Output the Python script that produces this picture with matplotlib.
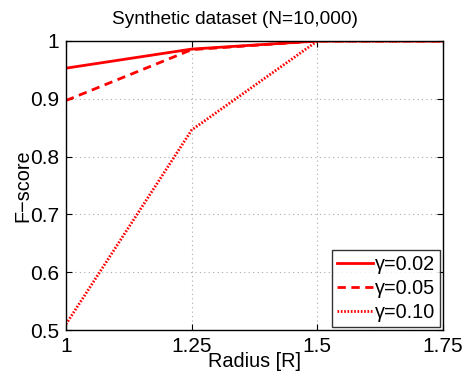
import matplotlib
matplotlib.use('Agg')
import matplotlib.pyplot as plt

plt.rcParams['font.family'] = ['Liberation Sans', 'DejaVu Sans']

radius = [1.0, 1.25, 1.5, 1.75]
f_002 = [0.953, 0.986, 1.0, 1.0]
f_005 = [0.897, 0.985, 1.0, 1.0]
f_010 = [0.510, 0.846, 1.0, 1.0]
labels = ['γ=0.02', 'γ=0.05', 'γ=0.10']

fig = plt.figure(figsize=(4.69, 3.76), dpi=100)
ax = fig.add_axes([66/469, 1 - 330/376, (443-66)/469, (330-41)/376])

ax.plot(radius, f_002, color='red', lw=2, ls='-', label=labels[0])
ax.plot(radius, f_005, color='red', lw=2, ls=(0, (3, 2)), label=labels[1])
ax.plot(radius, f_010, color='red', lw=2, ls=(0, (0.6, 0.6)), label=labels[2])

ax.set_xlim(1, 1.75)
ax.set_ylim(0.5, 1)
ax.set_xticks([1, 1.25, 1.5, 1.75])
ax.set_xticklabels(['1', '1.25', '1.5', '1.75'])
ax.set_yticks([0.5, 0.6, 0.7, 0.8, 0.9, 1])
ax.set_yticklabels(['0.5', '0.6', '0.7', '0.8', '0.9', '1'])
ax.tick_params(direction='in', labelsize=15, length=4, top=True, right=True, pad=5)
ax.grid(True, ls=(0, (1, 3)), color='#aaaaaa', lw=0.8)
for s in ax.spines.values():
    s.set_linewidth(1)

ax.set_xlabel('Radius [R]', fontsize=14.3, labelpad=-3)
ax.set_ylabel('F−score', fontsize=14.3, labelpad=-2)
# title centred on the whole figure
fig.suptitle('Synthetic dataset (N=10,000)', fontsize=13.7, x=0.5, y=1 - 24/376, va='baseline')

leg = ax.legend(loc='lower right', fontsize=14.3, borderaxespad=0.15, handlelength=1.8,
                handletextpad=0.1, labelspacing=0.25, fancybox=False, borderpad=0.25)
leg.get_frame().set_edgecolor('black')
leg.get_frame().set_linewidth(1)

fig.savefig('out.png', dpi=100)
